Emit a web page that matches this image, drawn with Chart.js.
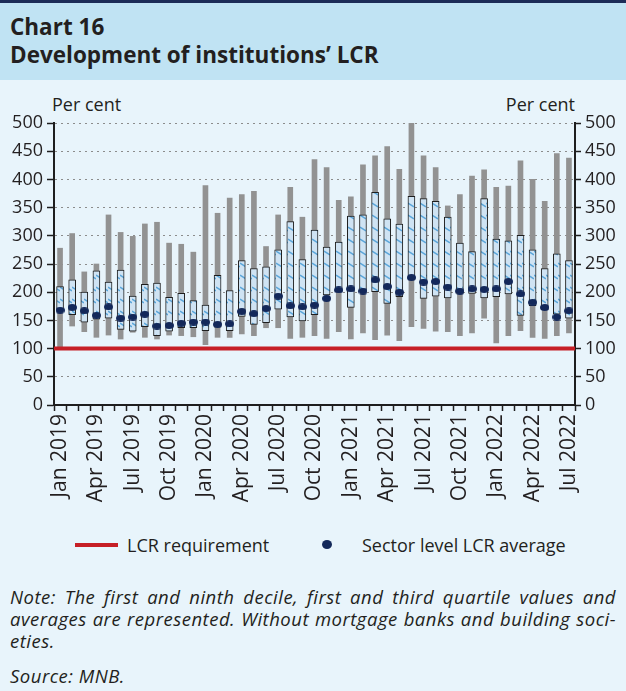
<!DOCTYPE html>
<html>
<head>
<meta charset="utf-8">
<script src="https://cdn.jsdelivr.net/npm/chart.js@4.4.0/dist/chart.umd.min.js"></script>
<style>
  html, body { margin: 0; padding: 0; }
  body {
    width: 626px; height: 691px; overflow: hidden; position: relative;
    background: #e8f4fb; color: #231f20;
    font-family: 'Open Sans', sans-serif;
  }
  .head {
    position: absolute; left: 0; top: 0; width: 626px; height: 80px;
    box-sizing: border-box; border-top: 3px solid #1c2c57; background: #c0e3f3;
  }
  .head div { position: absolute; left: 10px; font-weight: 700; font-size: 22.5px; line-height: 28px; white-space: nowrap; }
  .unit { position: absolute; top: 93px; font-size: 18px; line-height: 22px; white-space: nowrap; }
  #wrap { position: absolute; left: 0; top: 80px; width: 626px; height: 435px; }
  .leg { position: absolute; font-size: 18px; line-height: 24px; top: 533px; white-space: nowrap; }
  .note { position: absolute; left: 10px; width: 606px; font-style: italic; font-size: 18.5px; letter-spacing: 0.5px; line-height: 22px; }
  .note .j { text-align: justify; text-align-last: justify; white-space: nowrap; }
</style>
</head>
<body>
<div class="head">
  <div style="top:10px">Chart 16</div>
  <div style="top:38px">Development of institutions’ LCR</div>
</div>
<div class="unit" style="left:52px">Per cent</div>
<div class="unit" style="right:51px">Per cent</div>
<div id="wrap"><canvas id="c"></canvas></div>

<div style="position:absolute;left:75px;top:543px;width:43px;height:4px;background:#c61f26"></div>
<div class="leg" style="left:127px">LCR requirement</div>
<div style="position:absolute;left:322px;top:540px;width:10px;height:9px;border-radius:50%;background:#13285a"></div>
<div class="leg" style="left:362px">Sector level LCR average</div>

<div class="note" style="top:586px">
  <div class="j">Note: The first and ninth decile, first and third quartile values and</div>
  <div class="j">averages are represented. Without mortgage banks and building soci-</div>
  <div>eties.</div>
</div>
<div class="note" style="top:665px">Source: MNB.</div>

<script>
const months = [
  'Jan 2019', 'Feb 2019', 'Mar 2019', 'Apr 2019', 'May 2019', 'Jun 2019',
  'Jul 2019', 'Aug 2019', 'Sep 2019', 'Oct 2019', 'Nov 2019', 'Dec 2019',
  'Jan 2020', 'Feb 2020', 'Mar 2020', 'Apr 2020', 'May 2020', 'Jun 2020',
  'Jul 2020', 'Aug 2020', 'Sep 2020', 'Oct 2020', 'Nov 2020', 'Dec 2020',
  'Jan 2021', 'Feb 2021', 'Mar 2021', 'Apr 2021', 'May 2021', 'Jun 2021',
  'Jul 2021', 'Aug 2021', 'Sep 2021', 'Oct 2021', 'Nov 2021', 'Dec 2021',
  'Jan 2022', 'Feb 2022', 'Mar 2022', 'Apr 2022', 'May 2022', 'Jun 2022',
  'Jul 2022'
];

// first and ninth decile
const decileLow = [
  100, 140, 130, 120, 124, 117, 129, 120, 117, 124, 123, 121,
  107, 120, 120, 126, 123, 137, 137, 118, 120, 123, 118, 130,
  117, 128, 116, 124, 114, 139, 136, 131, 130, 123, 128, 154,
  110, 123, 132, 120, 118, 123, 128
];
const decileHigh = [
  278, 304, 236, 250, 337, 306, 299, 321, 324, 287, 285, 271,
  389, 340, 367, 373, 379, 281, 337, 386, 333, 435, 421, 363,
  369, 426, 442, 458, 418, 500, 442, 421, 353, 373, 406, 417,
  386, 388, 433, 400, 361, 446, 438
];

// first and third quartile
const quartileLow = [
  168, 160, 147, 152, 154, 134, 131, 139, 123, 131, 137, 137,
  132, 138, 132, 157, 143, 146, 170, 156, 149, 160, 195, 201,
  173, 202, 201, 180, 192, 223, 189, 193, 190, 198, 198, 190,
  192, 197, 159, 176, 169, 161, 154
];
const quartileHigh = [
  210, 222, 200, 238, 218, 239, 193, 214, 216, 191, 198, 185,
  177, 230, 203, 256, 242, 245, 275, 325, 258, 310, 280, 289,
  335, 337, 377, 330, 321, 370, 366, 361, 333, 287, 272, 366,
  294, 291, 301, 275, 242, 268, 256
];

const sectorAverage = [
  168, 173, 167, 159, 174, 154, 156, 161, 140, 141, 145, 147,
  147, 143, 144, 166, 162, 171, 193, 176, 174, 177, 189, 204,
  206, 202, 222, 210, 200, 226, 218, 219, 209, 202, 206, 205,
  206, 219, 197, 182, 173, 156, 167
];

const lcrRequirement = 100;

const axisFont = { family: "'Open Sans', sans-serif", size: 18 };
const ink = '#1e1e1e';

// light blue hatch used inside the quartile boxes
function hatchPattern() {
  const c = document.createElement('canvas');
  c.width = 6; c.height = 12;
  const g = c.getContext('2d');
  g.fillStyle = '#cfe3f3';
  g.fillRect(0, 0, 6, 12);
  g.strokeStyle = '#5ba6da';
  g.lineWidth = 1.5;
  g.beginPath();
  g.moveTo(0, 3);
  g.lineTo(6, 7);
  g.stroke();
  return g.createPattern(c, 'repeat');
}

// slightly flattened dot like the original
function dotImage() {
  const c = document.createElement('canvas');
  c.width = 9; c.height = 7;
  const g = c.getContext('2d');
  g.fillStyle = '#13285a';
  g.beginPath();
  g.ellipse(4.5, 3.5, 4.5, 3.5, 0, 0, Math.PI * 2);
  g.fill();
  return c;
}

new Chart(document.getElementById('c'), {
  type: 'bar',
  data: {
    labels: months,
    datasets: [
      {
        type: 'line',
        label: 'Sector level LCR average',
        data: sectorAverage,
        showLine: false,
        pointStyle: dotImage(),
        pointRadius: 4,
        order: 0
      },
      {
        type: 'line',
        label: 'LCR requirement',
        xAxisID: 'xLine',
        data: [{ x: 0, y: lcrRequirement }, { x: 1, y: lcrRequirement }],
        borderColor: '#c61f26',
        borderWidth: 4,
        pointRadius: 0,
        order: 1
      },
      {
        label: 'Quartiles',
        data: quartileLow.map((v, i) => [v, quartileHigh[i]]),
        backgroundColor: hatchPattern(),
        borderColor: ink,
        borderWidth: 1,
        borderSkipped: false,
        barThickness: 7,
        grouped: false,
        order: 2
      },
      {
        label: 'Deciles',
        data: decileLow.map((v, i) => [v, decileHigh[i]]),
        backgroundColor: '#929292',
        barThickness: 5,
        grouped: false,
        order: 3
      }
    ]
  },
  options: {
    responsive: true,
    maintainAspectRatio: false,
    animation: false,
    layout: { padding: { top: 43, left: 0, right: 0, bottom: 0 } },
    plugins: {
      legend: { display: false },
      tooltip: { enabled: false }
    },
    scales: {
      x: {
        type: 'category',
        offset: true,
        grid: {
          offset: true,
          drawOnChartArea: false,
          tickLength: 6,
          tickColor: ink,
          tickWidth: 1.5
        },
        border: { color: ink, width: 2 },
        ticks: {
          autoSkip: false,
          minRotation: 90,
          maxRotation: 90,
          padding: 3,
          color: '#231f20',
          font: { family: "'Open Sans', sans-serif", size: 21 },
          callback: function (v, i) {
            return i % 3 === 0 ? this.getLabelForValue(v) : '';
          }
        },
        afterFit: function (s) { s.height = 110; }
      },
      xLine: { type: 'linear', min: 0, max: 1, offset: false, display: false },
      y: {
        position: 'left',
        min: 0,
        max: 500,
        ticks: { stepSize: 50, padding: 4, color: '#231f20', font: axisFont },
        grid: {
          color: function (c) {
            return c.tick && c.tick.value === 0 ? 'rgba(0,0,0,0)' : '#8c8c8c';
          },
          lineWidth: 1,
          tickColor: ink,
          tickLength: 7,
          tickWidth: 1.5
        },
        border: { color: ink, width: 2, dash: [2, 4] },
        afterFit: function (s) { s.width = 54; }
      },
      y2: {
        position: 'right',
        min: 0,
        max: 500,
        ticks: { stepSize: 50, padding: 4, color: '#231f20', font: axisFont },
        grid: {
          drawOnChartArea: false,
          tickColor: ink,
          tickLength: 6,
          tickWidth: 1.5
        },
        border: { color: ink, width: 2 },
        afterFit: function (s) { s.width = 51; }
      }
    }
  }
});
</script>
</body>
</html>
